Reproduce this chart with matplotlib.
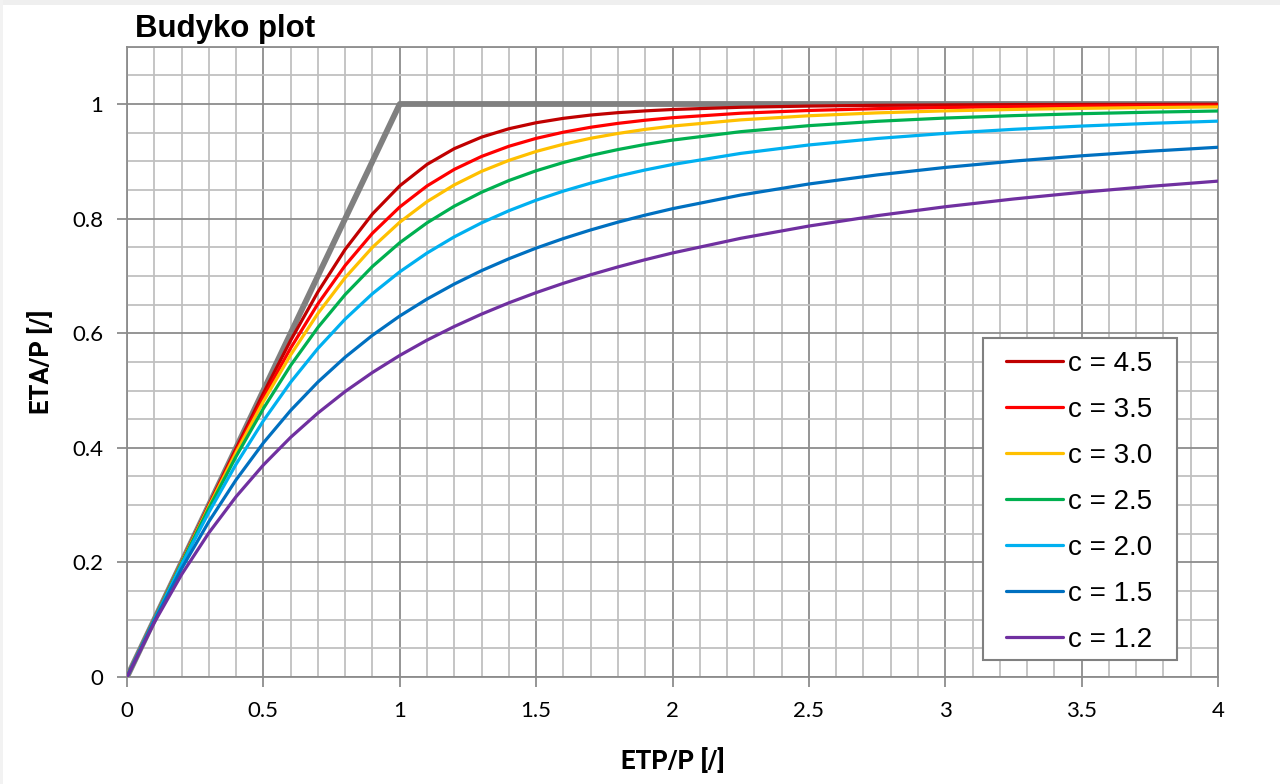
import matplotlib
matplotlib.use("Agg")
import matplotlib.pyplot as plt
from matplotlib.ticker import MultipleLocator
from matplotlib.patches import Rectangle

# ---- data ----
etp_p = [0.0, 0.1, 0.2, 0.3, 0.4, 0.5, 0.6, 0.7, 0.8, 0.9, 1.0,
         1.1, 1.2, 1.3, 1.4, 1.5, 1.6, 1.7, 1.8, 1.9, 2.0,
         2.25, 2.5, 2.75, 3.0, 3.25, 3.5, 3.75, 4.0]

eta_c45 = [0.0, 0.1000, 0.2000, 0.2997, 0.3986, 0.4952, 0.5874, 0.6721, 0.7464, 0.8082, 0.8572,
           0.8946, 0.9221, 0.9422, 0.9568, 0.9673, 0.9750, 0.9807, 0.9849, 0.9880, 0.9904,
           0.9943, 0.9964, 0.9977, 0.9984, 0.9989, 0.9992, 0.9994, 0.9996]
eta_c35 = [0.0, 0.1000, 0.1998, 0.2987, 0.3955, 0.4880, 0.5741, 0.6513, 0.7183, 0.7745, 0.8203,
           0.8570, 0.8859, 0.9085, 0.9262, 0.9400, 0.9508, 0.9594, 0.9662, 0.9717, 0.9761,
           0.9839, 0.9887, 0.9919, 0.9940, 0.9954, 0.9965, 0.9972, 0.9978]
eta_c30 = [0.0, 0.1000, 0.1995, 0.2973, 0.3918, 0.4808, 0.5621, 0.6345, 0.6970, 0.7499, 0.7937,
           0.8296, 0.8588, 0.8825, 0.9016, 0.9172, 0.9298, 0.9402, 0.9486, 0.9557, 0.9615,
           0.9723, 0.9795, 0.9845, 0.9880, 0.9905, 0.9924, 0.9938, 0.9949]
eta_c25 = [0.0, 0.0999, 0.1986, 0.2943, 0.3849, 0.4685, 0.5438, 0.6101, 0.6675, 0.7165, 0.7579,
           0.7926, 0.8217, 0.8460, 0.8664, 0.8835, 0.8979, 0.9102, 0.9205, 0.9294, 0.9370,
           0.9517, 0.9622, 0.9698, 0.9755, 0.9797, 0.9831, 0.9857, 0.9878]
eta_c20 = [0.0, 0.0995, 0.1961, 0.2873, 0.3714, 0.4472, 0.5145, 0.5735, 0.6247, 0.6690, 0.7071,
           0.7399, 0.7682, 0.7926, 0.8137, 0.8321, 0.8480, 0.8619, 0.8742, 0.8849, 0.8944,
           0.9138, 0.9285, 0.9398, 0.9487, 0.9558, 0.9615, 0.9662, 0.9701]
eta_c15 = [0.0, 0.0979, 0.1889, 0.2711, 0.3442, 0.4086, 0.4652, 0.5148, 0.5582, 0.5964, 0.6300,
           0.6596, 0.6858, 0.7092, 0.7299, 0.7485, 0.7652, 0.7802, 0.7938, 0.8061, 0.8173,
           0.8411, 0.8604, 0.8762, 0.8893, 0.9003, 0.9096, 0.9176, 0.9245]
eta_c12 = [0.0, 0.0950, 0.1787, 0.2515, 0.3148, 0.3700, 0.4183, 0.4607, 0.4983, 0.5315, 0.5612,
           0.5879, 0.6117, 0.6333, 0.6530, 0.6708, 0.6871, 0.7020, 0.7157, 0.7283, 0.7400,
           0.7656, 0.7870, 0.8051, 0.8207, 0.8342, 0.8459, 0.8562, 0.8654]

limit_x = [0.0, 1.0, 4.0]
limit_y = [0.0, 1.0, 1.0]

series_labels = ["c = 4.5", "c = 3.5", "c = 3.0", "c = 2.5", "c = 2.0", "c = 1.5", "c = 1.2"]
series_values = [eta_c45, eta_c35, eta_c30, eta_c25, eta_c20, eta_c15, eta_c12]
series_colors = ["#C00000", "#FF0000", "#FFC000", "#00B050", "#00B0F0", "#0070C0", "#7030A0"]

x_ticks = [0, 0.5, 1, 1.5, 2, 2.5, 3, 3.5, 4]
x_tick_labels = ["0", "0.5", "1", "1.5", "2", "2.5", "3", "3.5", "4"]
y_ticks = [0, 0.2, 0.4, 0.6, 0.8, 1.0]
y_tick_labels = ["0", "0.2", "0.4", "0.6", "0.8", "1"]

W, H = 1280, 784

# ---- figure ----
fig = plt.figure(figsize=(12.8, 7.84), dpi=100)
# light chart-area border strips (top and left)
fig.patches.append(Rectangle((0, 1 - 5 / H), 1, 5 / H, transform=fig.transFigure,
                             facecolor="#EFEFEF", edgecolor="none", zorder=0))
fig.patches.append(Rectangle((0, 0), 3 / W, 1, transform=fig.transFigure,
                             facecolor="#F2F2F2", edgecolor="none", zorder=0))

ax = fig.add_axes([127 / W, 1 - 677 / H, (1218 - 127) / W, (677 - 46.7) / H])

ax.set_xlim(0, 4)
ax.set_ylim(0, 1.1)
ax.xaxis.set_minor_locator(MultipleLocator(0.1))
ax.yaxis.set_minor_locator(MultipleLocator(0.05))
ax.set_xticks(x_ticks)
ax.set_xticklabels(x_tick_labels)
ax.set_yticks(y_ticks)
ax.set_yticklabels(y_tick_labels)

ax.grid(which="minor", color="#C0C0C0", linewidth=1.3, zorder=0)
ax.grid(which="major", color="#8C8C8C", linewidth=1.3, zorder=0)
ax.set_axisbelow(True)

for side in ["top", "right", "left", "bottom"]:
    ax.spines[side].set_color("#8C8C8C")
    ax.spines[side].set_linewidth(1.3)

ax.tick_params(which="major", direction="out", length=7, width=1.3, color="#8C8C8C",
               labelsize=16, pad=10)
ax.tick_params(which="minor", length=0)
for lab in ax.get_xticklabels() + ax.get_yticklabels():
    lab.set_family(["Lato", "DejaVu Sans"])

ax.plot(limit_x, limit_y, color="#808080", linewidth=4.2, solid_capstyle="butt", zorder=2)

handles = []
for lbl, vals, col in zip(series_labels, series_values, series_colors):
    h, = ax.plot(etp_p, vals, color=col, linewidth=2.3, label=lbl, zorder=3,
                 solid_capstyle="round", solid_joinstyle="round")
    handles.append(h)

# legend frame drawn explicitly, entries placed inside it
legend_frame = Rectangle((983 / W, 1 - 660 / H), (1177 - 983) / W, (660 - 338) / H,
                         transform=fig.transFigure, facecolor="white", edgecolor="#808080",
                         linewidth=1.5, zorder=5)
fig.add_artist(legend_frame)
leg = ax.legend(handles=handles, loc="upper left", bbox_to_anchor=(1006 / W, 1 - 351 / H),
                bbox_transform=fig.transFigure, borderaxespad=0, frameon=False,
                prop={"family": ["Liberation Sans", "DejaVu Sans"], "size": 20},
                handlelength=2.05, handletextpad=0.18, labelspacing=0.72, borderpad=0)
leg.set_zorder(6)
fig.add_artist(leg)

ax.set_xlabel("ETP/P [/]", fontsize=18.5, fontweight="bold",
              family=["Roboto", "DejaVu Sans"], labelpad=20)
ax.set_ylabel("ETA/P [/]", fontsize=18.5, fontweight="bold",
              family=["Roboto", "DejaVu Sans"], labelpad=13.5)

fig.text(135 / W, 1 - 37 / H, "Budyko plot", fontsize=22.5, fontweight="bold",
         family=["Liberation Sans", "DejaVu Sans"], ha="left", va="baseline")

fig.savefig("out.png", dpi=100, facecolor="white")
